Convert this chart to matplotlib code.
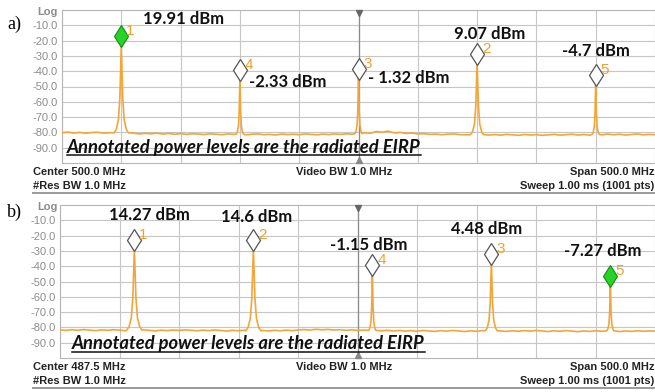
import matplotlib
matplotlib.use("Agg")
import matplotlib.pyplot as plt
import numpy as np

W, H = 655, 392

# ---------------- data ----------------
y_ticks = [-10, -20, -30, -40, -50, -60, -70, -80, -90]
y_tick_labels = ["-10.0", "-20.0", "-30.0", "-40.0", "-50.0", "-60.0", "-70.0", "-80.0", "-90.0"]

# panel a
a_center = 500.0
a_span = 500.0
a_marker_ids = ["1", "4", "3", "2", "5"]
a_peak_freqs = [300, 400, 500, 600, 700]
a_peak_levels = [-22.3, -44.4, -43.8, -34.0, -47.7]
a_peak_halfwidths = [6.0, 3.0, 3.0, 5.5, 3.0]
a_marker_active = [True, False, False, False, False]
a_eirp_labels = ["19.91 dBm", "-2.33 dBm", "- 1.32 dBm", "9.07 dBm", "-4.7 dBm"]
a_floor = [
    -80.2, -79.8, -80.4, -80.0, -80.6, -80.1, -79.9, -80.5, -80.2, -80.7,
    -80.3, -80.8, -80.4, -81.0, -80.6, -80.9, -80.5, -81.1, -80.7, -81.2,
    -80.8, -81.3, -80.9, -81.1, -81.4, -80.9, -81.2, -81.5, -81.0, -81.3,
    -81.1, -81.6, -81.2, -81.0, -81.5, -81.3, -81.7, -81.1, -81.4, -81.2,
    -81.5, -81.0, -81.3, -81.6, -81.1, -81.4, -81.0, -81.3, -80.9, -81.2,
    -80.8, -80.2, -80.6, -79.4, -79.9, -79.2, -80.3, -80.0, -80.7, -80.4,
    -81.0, -80.8, -81.3, -81.1, -81.5, -81.2, -81.0, -81.4, -81.6, -81.2,
    -81.5, -81.3, -81.7, -81.4, -81.8, -81.3, -81.6, -81.9, -81.4, -81.7,
    -81.5, -81.9, -81.6, -81.3, -81.8, -81.5, -81.2, -81.7, -81.4, -81.8,
    -81.3, -81.6, -81.1, -81.5, -81.2, -81.7, -81.4, -81.0, -81.6, -81.3,
    -81.5]
a_footer = ["Center 500.0 MHz", "#Res BW 1.0 MHz", "Video BW 1.0 MHz",
            "Span 500.0 MHz", "Sweep 1.00 ms (1001 pts)"]

# panel b
b_center = 487.5
b_span = 500.0
b_marker_ids = ["1", "2", "4", "3", "5"]
b_peak_freqs = [300, 400, 500, 600, 700]
b_peak_levels = [-28.4, -28.4, -44.6, -37.1, -51.8]
b_peak_halfwidths = [6.5, 6.5, 3.0, 5.0, 3.0]
b_marker_active = [False, False, False, False, True]
b_eirp_labels = ["14.27 dBm", "14.6 dBm", "-1.15 dBm", "4.48 dBm", "-7.27 dBm"]
b_floor = [
    -81.6, -82.0, -81.5, -81.9, -81.4, -81.8, -82.1, -81.6, -81.9, -81.5,
    -81.8, -82.2, -81.7, -82.0, -81.6, -81.9, -82.3, -81.8, -82.1, -81.7,
    -82.0, -81.6, -81.9, -82.2, -81.8, -82.1, -81.7, -82.0, -82.4, -81.9,
    -82.2, -81.8, -82.1, -82.5, -82.0, -82.3, -81.9, -82.2, -81.8, -82.1,
    -81.7, -81.4, -81.8, -81.2, -81.6, -81.3, -81.7, -81.5, -81.9, -81.6,
    -82.0, -81.7, -82.1, -81.8, -82.2, -81.9, -82.3, -82.0, -82.4, -82.1,
    -82.5, -82.0, -82.3, -82.6, -82.1, -82.4, -82.0, -82.3, -82.7, -82.2,
    -82.5, -82.1, -82.4, -82.0, -82.3, -82.6, -82.2, -82.5, -82.1, -82.4,
    -82.0, -82.3, -82.7, -82.2, -82.5, -82.1, -82.4, -82.8, -82.3, -82.6,
    -82.2, -82.5, -82.1, -82.4, -82.7, -82.3, -82.6, -82.2, -82.5, -82.3,
    -82.4]
b_footer = ["Center 487.5 MHz", "#Res BW 1.0 MHz", "Video BW 1.0 MHz",
            "Span 500.0 MHz", "Sweep 1.00 ms (1001 pts)"]

note_text = "Annotated power levels are the radiated EIRP"
floor_step = 5.0

# ---------------- style ----------------
TRACE = "#F2A63A"
ORANGE = "#EFA02E"
GRID = "#c6c6c6"
TICKC = "#8c8c8c"
shape_dx = [0.0, 0.08, 0.2, 0.4, 0.7, 1.0]
shape_depth = [0.0, 0.25, 0.6, 0.85, 0.96, 1.0]

fig = plt.figure(figsize=(W / 100, H / 100), dpi=100)
fig.patch.set_facecolor("white")


def px(x, y):
    return x / W, 1 - y / H


def draw_panel(rect, center, span, freqs, levels, halfw, ids, active, floor):
    ax = fig.add_axes(rect)
    lo, hi = center - span / 2, center + span / 2
    ax.set_xlim(lo, hi)
    ax.set_ylim(-100, 0)
    ax.set_xticks(np.linspace(lo, hi, 11))
    ax.set_yticks(y_ticks)
    ax.set_yticklabels(y_tick_labels)
    ax.tick_params(axis="x", length=0, labelbottom=False)
    ax.tick_params(axis="y", length=0, pad=3, labelsize=8, labelcolor=TICKC)
    for lab in ax.get_yticklabels():
        lab.set_fontfamily("Liberation Sans")
    ax.grid(True, color=GRID, lw=0.8)
    ax.set_axisbelow(True)
    for s in ax.spines.values():
        s.set_color("#b5b5b5")
        s.set_linewidth(0.8)
    ax.spines["right"].set_visible(False)
    ax.axvline(center, color="#8a8a8a", lw=0.9, zorder=1)

    fgrid = lo + floor_step * np.arange(len(floor))
    floor_arr = np.array(floor)
    keep = np.ones(len(fgrid), bool)
    for f, w in zip(freqs, halfw):
        keep &= np.abs(fgrid - f) > w
    xs = list(fgrid[keep])
    ys = list(floor_arr[keep])
    for f, L, w in zip(freqs, levels, halfw):
        F = np.interp(f, fgrid, floor_arr)
        for dx, dd in zip(shape_dx, shape_depth):
            for s in (-1, 1):
                xs.append(f + s * dx * w)
                ys.append(L + dd * (F - L))
    order = np.argsort(xs, kind="stable")
    ax.plot(np.array(xs)[order], np.array(ys)[order], color=TRACE, lw=1.2,
            zorder=3, clip_on=True)

    for f, L, i, act in zip(freqs, levels, ids, active):
        yc = L + 5.3
        if act:
            ax.plot(f, yc, marker="d", ms=11.5, mfc="#27d327", mec="#188a18",
                    mew=0.8, zorder=5, clip_on=False)
        else:
            ax.plot(f, yc, marker="d", ms=11.5, mfc="white", mec="#555555",
                    mew=0.9, zorder=5, clip_on=False)
        ax.annotate(i, xy=(f, yc), xytext=(3.5, 3.5), textcoords="offset points",
                    ha="left", va="center", fontsize=11, color=ORANGE,
                    family="Liberation Sans", zorder=6)

    ax.plot(center, -2.2, marker="v", ms=5, color="#666666", clip_on=False, zorder=6)
    ax.plot(center, -97.8, marker="^", ms=5, color="#888888", clip_on=False, zorder=6)
    return ax


ax_a = draw_panel([62 / W, 1 - 163 / H, 593 / W, 153 / H], a_center, a_span,
                  a_peak_freqs, a_peak_levels, a_peak_halfwidths,
                  a_marker_ids, a_marker_active, a_floor)
ax_b = draw_panel([60 / W, 1 - 358 / H, 595 / W, 153 / H], b_center, b_span,
                  b_peak_freqs, b_peak_levels, b_peak_halfwidths,
                  b_marker_ids, b_marker_active, b_floor)

# Log labels
for (x, y) in [(58, 12), (58, 207)]:
    fig.text(*px(x, y), "Log", ha="right", va="center", fontsize=8,
             color=TICKC, family="Liberation Sans", fontweight="bold")

# panel labels
fig.text(*px(7, 24), "a)", ha="left", va="center", fontsize=13, family="Liberation Serif")
fig.text(*px(7, 212), "b)", ha="left", va="center", fontsize=13, family="Liberation Serif")

# EIRP labels (left x, center y in px)
a_lbl_pos = [(143, 19), (249, 82), (368, 78), (454, 34), (562, 51)]
b_lbl_pos = [(109, 215), (221, 217), (330, 245), (451, 229), (564, 251)]
for labels, poss in [(a_eirp_labels, a_lbl_pos), (b_eirp_labels, b_lbl_pos)]:
    for t, (x, y) in zip(labels, poss):
        fig.text(*px(x, y), t, ha="left", va="center", fontsize=12,
                 fontweight="bold", family="Lato", color="#111111", zorder=10)

# note text with underline
notes = []
for (x, y, x1) in [(67, 148, 422), (72, 344, 425)]:
    t = fig.text(*px(x, y), note_text, ha="left", va="center", fontsize=12,
                 fontweight="bold", fontstyle="italic", family="Lato",
                 color="#111111", zorder=10)
    notes.append((t, x, x1))

# footers
for footer, y0, y1, xl in [(a_footer, 172, 186, 33), (b_footer, 367, 381, 33)]:
    kw = dict(fontsize=8, fontweight="bold", family="Liberation Sans", color="#222222",
              va="center")
    fig.text(*px(xl, y0), footer[0], ha="left", **kw)
    fig.text(*px(xl, y1), footer[1], ha="left", **kw)
    fig.text(*px(296, y0), footer[2], ha="left", **kw)
    fig.text(*px(654, y0), footer[3], ha="right", **kw)
    fig.text(*px(654, y1), footer[4], ha="right", **kw)

# separator lines
for y in (193, 388):
    fig.add_artist(plt.Line2D([33 / W, 1], [1 - y / H] * 2, color="#9a9a9a", lw=1.4))

# stretch note text to reference width
fig.canvas.draw()
r = fig.canvas.get_renderer()
for t, x0, x1 in notes:
    bb = t.get_window_extent(r)
    t.set_fontsize(12 * (x1 - x0) / bb.width)
fig.canvas.draw()
for t, x0, x1 in notes:
    bb = t.get_window_extent(r)
    yl = bb.y0 + 1
    fig.add_artist(plt.Line2D([bb.x0 / W, bb.x1 / W], [yl / H, yl / H],
                              color="#111111", lw=1.1))

fig.savefig("out.png", dpi=100)
